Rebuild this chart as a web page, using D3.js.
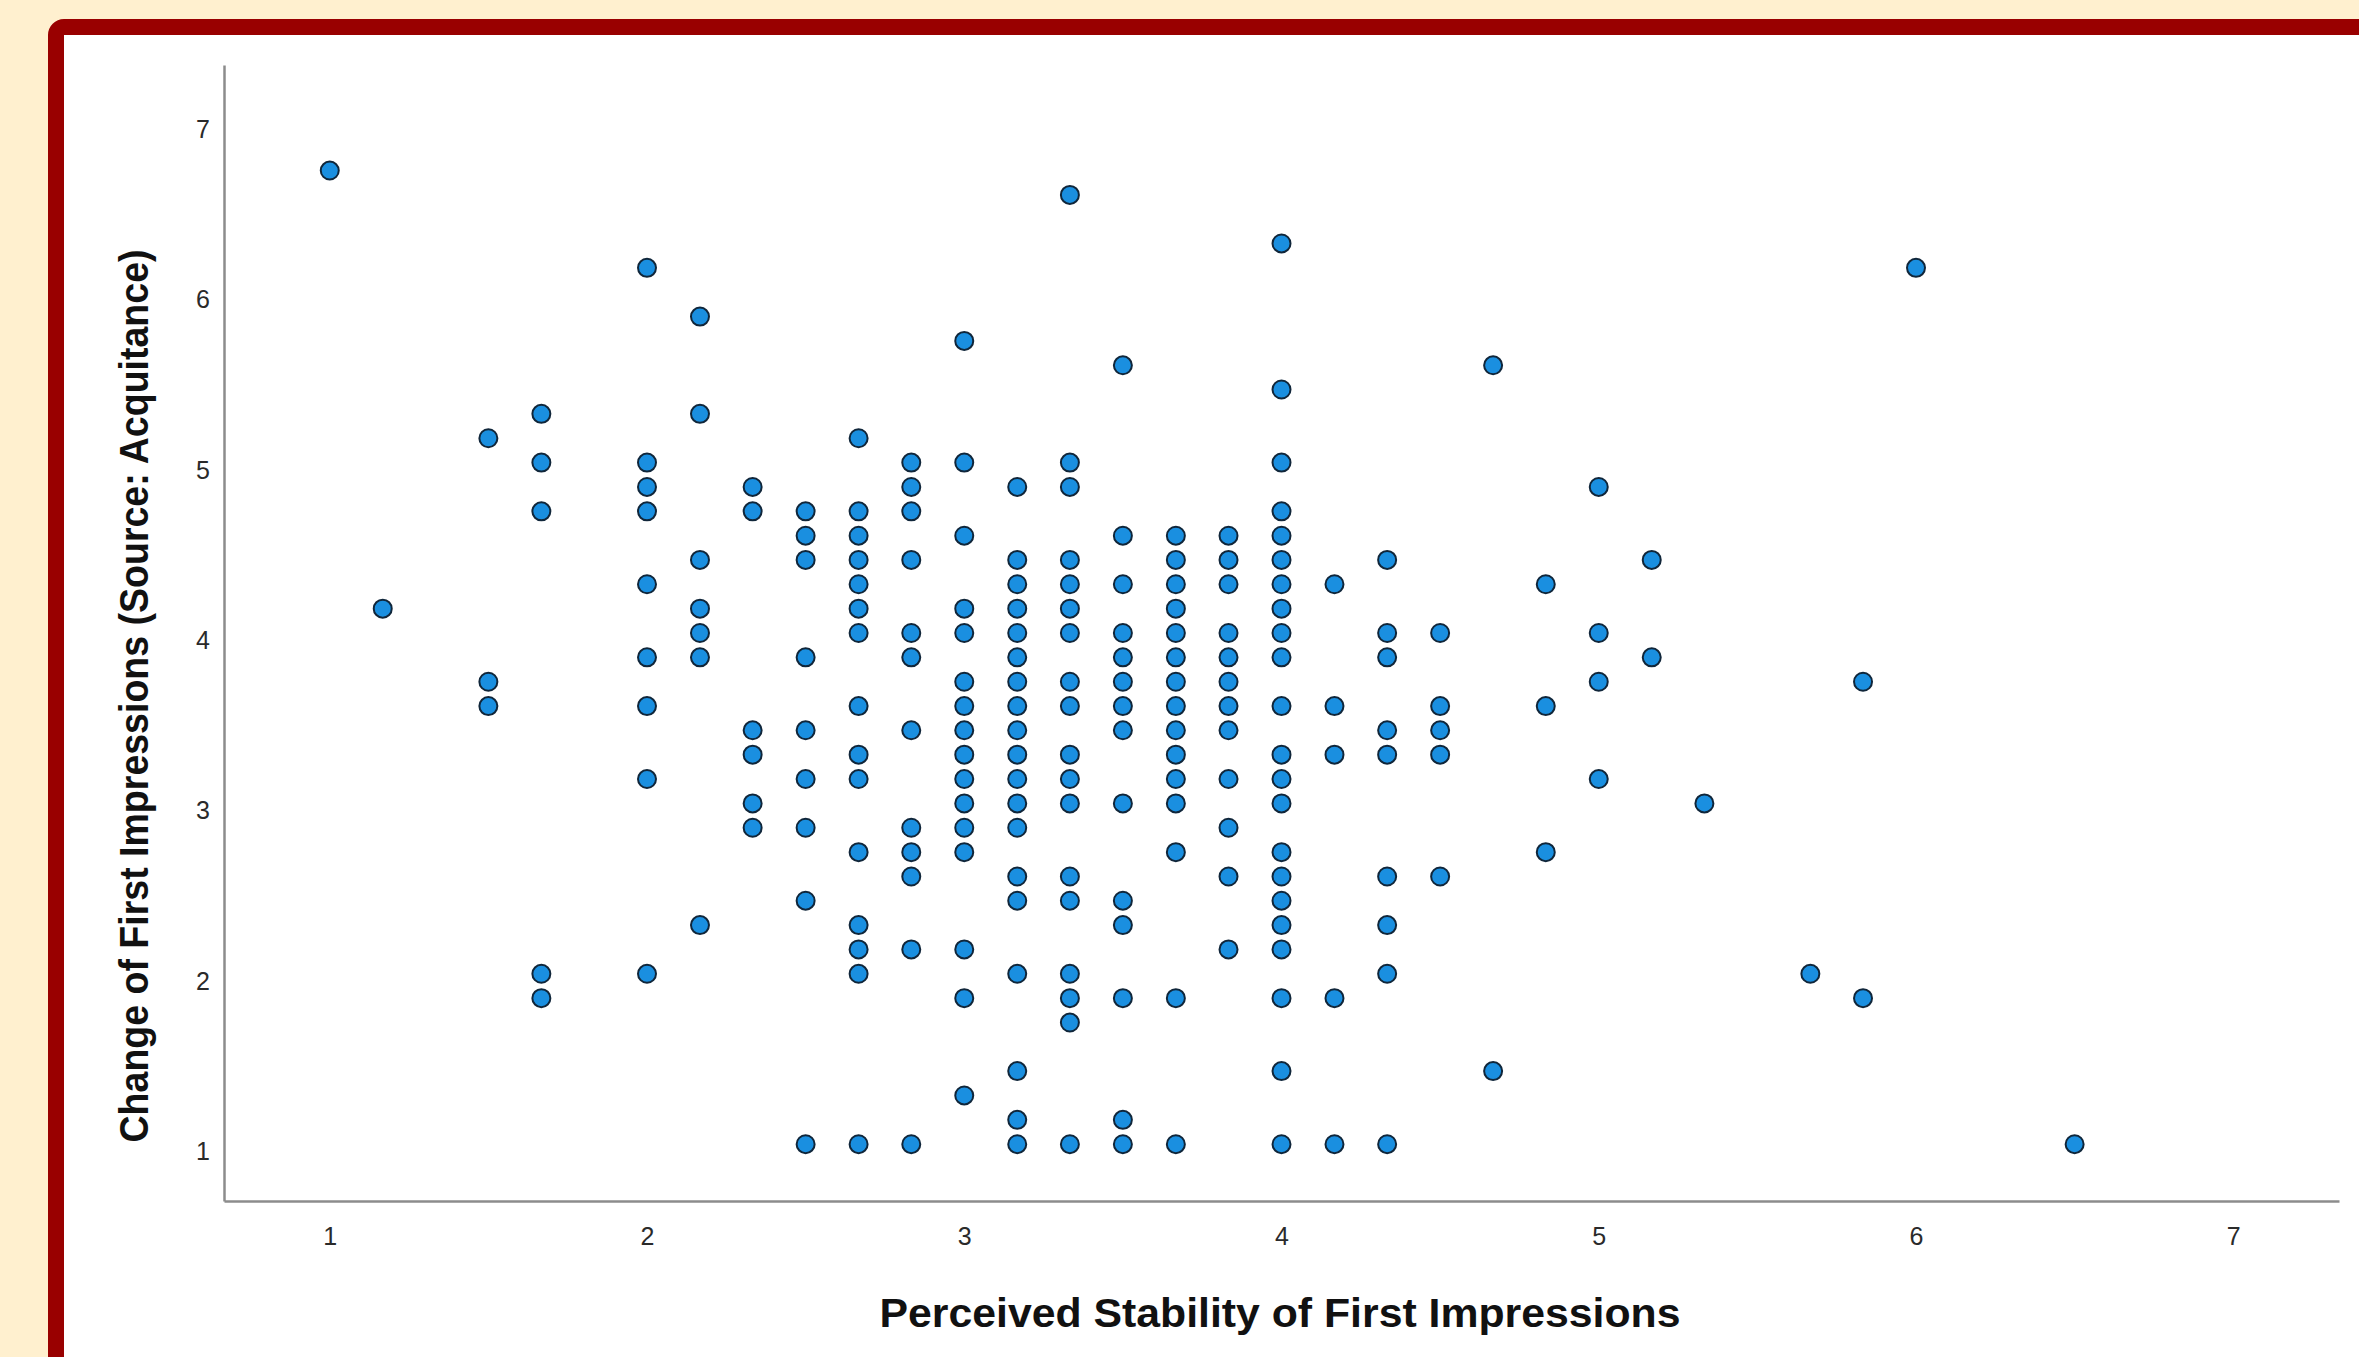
<!DOCTYPE html>
<html>
<head>
<meta charset="utf-8">
<script src="https://cdn.jsdelivr.net/npm/d3@7"></script>
<style>
body { margin: 0; background: #fff0cf; overflow: hidden; }
text { font-family: "Liberation Sans", Arial, sans-serif; }
</style>
</head>
<body>
<script>
// x levels (Perceived Stability) and the y values found at each level
const stability = [1, 1.167, 1.5, 1.667, 2, 2.167, 2.333, 2.5, 2.667, 2.833, 3, 3.167, 3.333, 3.5,
    3.667, 3.833, 4, 4.167, 4.333, 4.5, 4.667, 4.833, 5, 5.167, 5.333, 5.667, 5.833, 6, 6.5];

const change = [
    [6.714],
    [4.143],
    [5.143, 3.714, 3.571],
    [5.286, 5, 4.714, 2, 1.857],
    [6.143, 5, 4.857, 4.714, 4.286, 3.857, 3.571, 3.143, 2],
    [5.857, 5.286, 4.429, 4.143, 4, 3.857, 2.286],
    [4.857, 4.714, 3.429, 3.286, 3, 2.857],
    [4.714, 4.571, 4.429, 3.857, 3.429, 3.143, 2.857, 2.429, 1],
    [5.143, 4.714, 4.571, 4.429, 4.286, 4.143, 4, 3.571, 3.286, 3.143, 2.714, 2.286, 2.143, 2, 1],
    [5, 4.857, 4.714, 4.429, 4, 3.857, 3.429, 2.857, 2.714, 2.571, 2.143, 1],
    [5.714, 5, 4.571, 4.143, 4, 3.714, 3.571, 3.429, 3.286, 3.143, 3, 2.857, 2.714, 2.143, 1.857, 1.286],
    [4.857, 4.429, 4.286, 4.143, 4, 3.857, 3.714, 3.571, 3.429, 3.286, 3.143, 3, 2.857, 2.571, 2.429, 2, 1.429, 1.143, 1],
    [6.571, 5, 4.857, 4.429, 4.286, 4.143, 4, 3.714, 3.571, 3.286, 3.143, 3, 2.571, 2.429, 2, 1.857, 1.714, 1],
    [5.571, 4.571, 4.286, 4, 3.857, 3.714, 3.571, 3.429, 3, 2.429, 2.286, 1.857, 1.143, 1],
    [4.571, 4.429, 4.286, 4.143, 4, 3.857, 3.714, 3.571, 3.429, 3.286, 3.143, 3, 2.714, 1.857, 1],
    [4.571, 4.429, 4.286, 4, 3.857, 3.714, 3.571, 3.429, 3.143, 2.857, 2.571, 2.143],
    [6.286, 5.429, 5, 4.714, 4.571, 4.429, 4.286, 4.143, 4, 3.857, 3.571, 3.286, 3.143, 3, 2.714, 2.571, 2.429, 2.286, 2.143, 1.857, 1.429, 1],
    [4.286, 3.571, 3.286, 1.857, 1],
    [4.429, 4, 3.857, 3.429, 3.286, 2.571, 2.286, 2, 1],
    [4, 3.571, 3.429, 3.286, 2.571],
    [5.571, 1.429],
    [4.286, 3.571, 2.714],
    [4.857, 4, 3.714, 3.143],
    [4.429, 3.857],
    [3],
    [2],
    [3.714, 1.857],
    [6.143],
    [1]
];

const xTicks = [1, 2, 3, 4, 5, 6, 7];
const yTicks = [1, 2, 3, 4, 5, 6, 7];
const xTitle = "Perceived Stability of First Impressions";
const yTitle = "Change of First Impressions (Source: Acquitance)";

window.addEventListener("load", drawChart);

function drawChart() {
    const svg = d3.select("body").append("svg")
    .attr("width", 2359).attr("height", 1357);

    // red frame, runs off the right and bottom edge
    svg.append("rect")
    .attr("x", 56).attr("y", 27)
    .attr("width", 2400).attr("height", 1400)
    .attr("rx", 8)
    .attr("fill", "white").attr("stroke", "#990000").attr("stroke-width", 16);

    const x = d3.scaleLinear().domain([2 / 3, 22 / 3]).range([224, 2339]);
    const y = d3.scaleLinear().domain([2 / 3, 22 / 3]).range([1201, 65]);

    const points = [];
    stability.forEach((s, i) => {
        change[i].forEach(c => points.push([s, c]));
    });

    const yAxis = svg.append("g").attr("transform", "translate(224,0)")
    .call(d3.axisLeft(y).tickValues(yTicks).tickFormat(d3.format("d"))
        .tickSize(0).tickSizeOuter(0).tickPadding(14));
    yAxis.selectAll("text").attr("dy", "0.62em");

    const xAxis = svg.append("g").attr("transform", "translate(0,1201)")
    .call(d3.axisBottom(x).tickValues(xTicks).tickFormat(d3.format("d"))
        .tickSize(0).tickSizeOuter(0).tickPadding(26));

    [xAxis, yAxis].forEach(ax => {
        ax.select(".domain").attr("stroke", "#8c8c8c").attr("stroke-width", 2.5);
        ax.selectAll("text")
        .attr("font-size", 25).attr("fill", "#2a2a2a")
        .attr("font-family", "'Liberation Sans', Arial, sans-serif");
    });

    svg.append("g").selectAll("circle")
    .data(points).enter()
    .append("circle")
    .attr("cx", d => x(d[0])).attr("cy", d => y(d[1]))
    .attr("r", 9)
    .attr("fill", "#1a8fe0").attr("stroke", "#10263a").attr("stroke-width", 2);

    svg.append("text")
    .attr("x", 1280).attr("y", 1327)
    .attr("text-anchor", "middle")
    .attr("font-size", 40).attr("font-weight", "bold").attr("fill", "#111")
    .attr("textLength", 801).attr("lengthAdjust", "spacingAndGlyphs")
    .text(xTitle);

    svg.append("text")
    .attr("transform", "translate(148,696) rotate(-90)")
    .attr("text-anchor", "middle")
    .attr("font-size", 40).attr("font-weight", "bold").attr("fill", "#111")
    .attr("textLength", 893).attr("lengthAdjust", "spacingAndGlyphs")
    .text(yTitle);
}
</script>
</body>
</html>
